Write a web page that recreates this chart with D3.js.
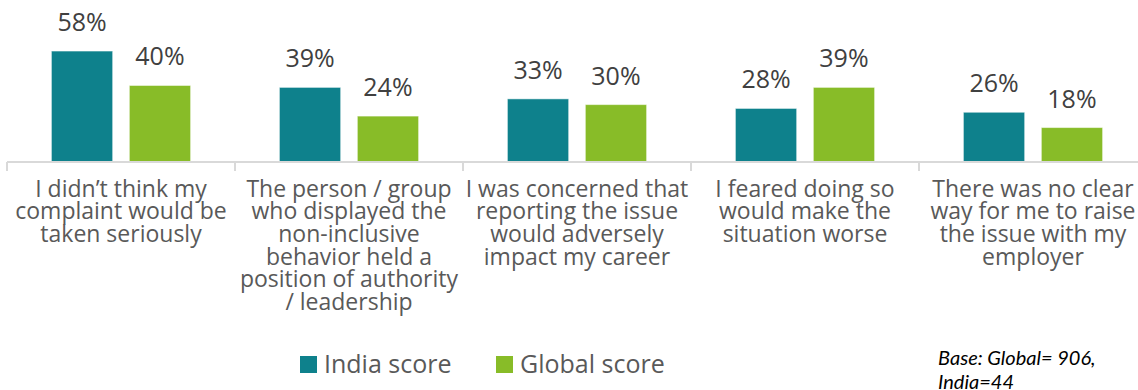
<!DOCTYPE html>
<html>
<head>
<meta charset="utf-8">
<script src="https://cdn.jsdelivr.net/npm/d3@7"></script>
<style>
  body { margin: 0; background: #fff; }
  svg { display: block; }
</style>
</head>
<body>
<svg id="chart"></svg>
<script>
// data
const categories = [
  "I didn\u2019t think my\ncomplaint would be\ntaken seriously",
  "The person / group\nwho displayed the\nnon-inclusive\nbehavior held a\nposition of authority\n/ leadership",
  "I was concerned that\nreporting the issue\nwould adversely\nimpact my career",
  "I feared doing so\nwould make the\nsituation worse",
  "There was no clear\nway for me to raise\nthe issue with my\nemployer"
];
const series = ["India score", "Global score"];
const indiaValues = [58, 39, 33, 28, 26];
const globalValues = [40, 24, 30, 39, 18];
const colors = ["#0e818c", "#88bc28"];
const baseNote = ["Base: Global= 906,", "India=44"];

const width = 1138, height = 390;
const axisY = 162;

const svg = d3.select("#chart")
  .attr("width", width)
  .attr("height", height);

// scales
const x = d3.scaleBand().domain(categories).range([7, 7 + 228 * 5]);
const xSub = d3.scaleBand().domain(series).range([44.4, 183.6]).paddingInner(0.214);
const y = d3.scaleLinear().domain([0, 60]).range([axisY, axisY - 60 * 1.913]);
const color = d3.scaleOrdinal().domain(series).range(colors);

const rows = categories.map((c, i) => ({
  cat: c,
  vals: [
    { s: series[0], v: indiaValues[i] },
    { s: series[1], v: globalValues[i] }
  ]
}));

// bars
const groups = svg.selectAll("g.cat")
  .data(rows)
  .enter()
  .append("g")
  .attr("class", "cat")
  .attr("transform", d => `translate(${x(d.cat)},0)`);

groups.selectAll("rect")
  .data(d => d.vals)
  .enter()
  .append("rect")
  .attr("x", d => xSub(d.s))
  .attr("width", xSub.bandwidth())
  .attr("y", d => y(d.v))
  .attr("height", d => y(0) - y(d.v))
  .attr("fill", d => color(d.s))
  .attr("stroke", "#ffffff")
  .attr("stroke-opacity", 0.5)
  .attr("stroke-width", 1);

// value labels
groups.selectAll("text.val")
  .data(d => d.vals)
  .enter()
  .append("text")
  .attr("class", "val")
  .attr("x", d => xSub(d.s) + xSub.bandwidth() / 2)
  .attr("y", d => y(d.v) - 20)
  .attr("text-anchor", "middle")
  .style("font-family", "'Open Sans', sans-serif")
  .style("font-size", "25px")
  .style("fill", "#404040")
  .text(d => d.v + "%");

// axis line + boundary ticks
svg.append("line")
  .attr("x1", x.range()[0]).attr("x2", width)
  .attr("y1", axisY).attr("y2", axisY)
  .attr("stroke", "#d9d9d9").attr("stroke-width", 2);

svg.selectAll("line.tick")
  .data(categories)
  .enter()
  .append("line")
  .attr("class", "tick")
  .attr("x1", d => x(d)).attr("x2", d => x(d))
  .attr("y1", axisY).attr("y2", axisY + 9)
  .attr("stroke", "#d9d9d9").attr("stroke-width", 2);

// category labels (wrapped as in the original)
const labels = svg.selectAll("text.cat")
  .data(categories)
  .enter()
  .append("text")
  .attr("class", "cat")
  .attr("text-anchor", "middle")
  .style("font-family", "'Open Sans', sans-serif")
  .style("font-size", "23px")
  .style("fill", "#595959");

labels.selectAll("tspan")
  .data(d => d.split("\n").map(t => ({ t, c: d })))
  .enter()
  .append("tspan")
  .attr("x", d => x(d.c) + x.bandwidth() / 2)
  .attr("y", (d, i) => 196.5 + i * 22.7)
  .text(d => d.t);

// legend
const legendX = [300, 496];
const legend = svg.selectAll("g.leg")
  .data(series)
  .enter()
  .append("g")
  .attr("class", "leg")
  .attr("transform", (d, i) => `translate(${legendX[i]},356)`);

legend.append("rect")
  .attr("width", 17).attr("height", 17)
  .attr("fill", d => color(d));

legend.append("text")
  .attr("x", 24).attr("y", 16.5)
  .style("font-family", "'Open Sans', sans-serif")
  .style("font-size", "25px")
  .style("fill", "#595959")
  .text(d => d);

// base note
svg.append("text")
  .selectAll("tspan")
  .data(baseNote)
  .enter()
  .append("tspan")
  .attr("x", 938)
  .attr("y", (d, i) => 365 + i * 24)
  .style("font-family", "Lato, sans-serif")
  .style("font-style", "italic")
  .style("font-size", "20px")
  .style("fill", "#000")
  .text(d => d);
</script>
</body>
</html>
